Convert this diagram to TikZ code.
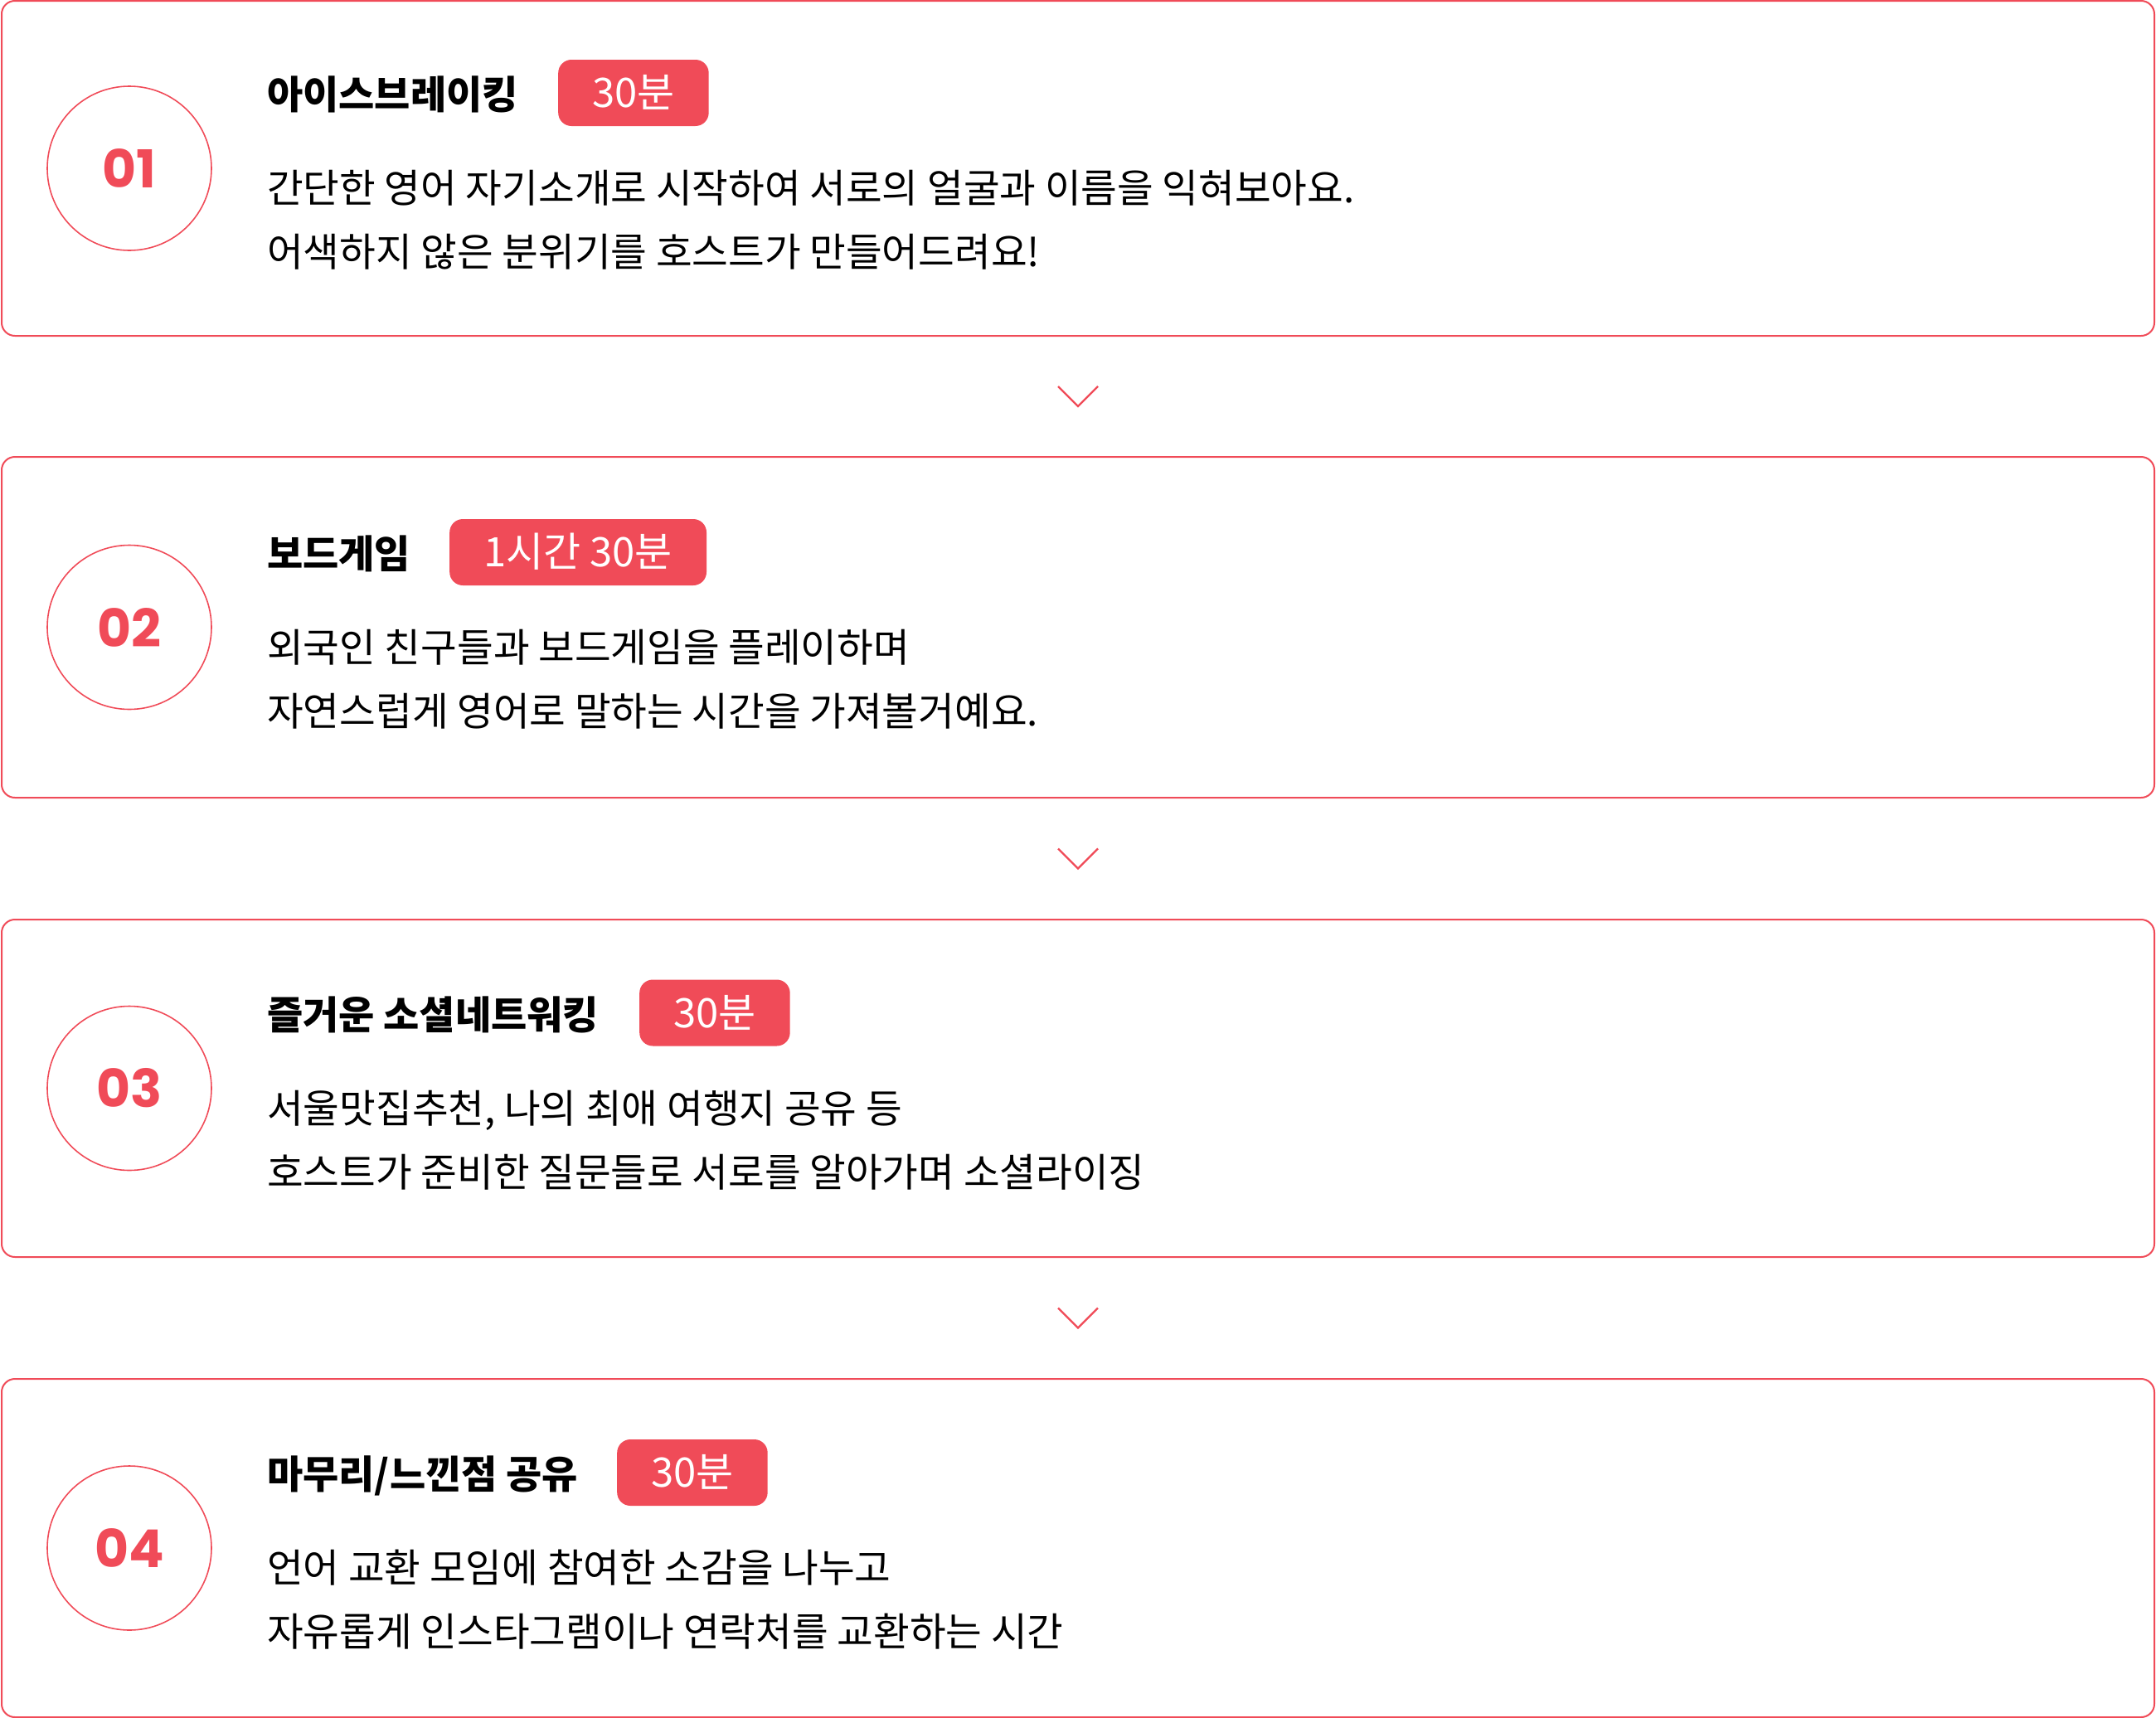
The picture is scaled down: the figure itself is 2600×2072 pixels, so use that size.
\documentclass[tikz,border=0pt]{standalone}
\usepackage{fontspec}
\setmainfont{Noto Sans CJK KR}
\newfontfamily\numfont{Poppins}
\usetikzlibrary{calc}
\definecolor{brand}{HTML}{F04B58}
\begin{document}
\begin{tikzpicture}[x=1pt,y=-1pt,
  box/.style={draw=brand, line width=2pt, rounded corners=16pt, minimum width=2596pt, inner sep=0pt},
  numcirc/.style={circle, draw=brand, line width=1.6pt, minimum size=198pt, inner sep=0pt, text=brand, font=\numfont\bfseries\fontsize{63}{63}\selectfont},
  ttl/.style={anchor=base west, inner sep=0pt, font=\bfseries\fontsize{47}{47}\selectfont},
  badge/.style={fill=brand, rounded corners=16pt, text=white, minimum height=80pt, inner xsep=41pt, inner ysep=0pt, text height=35pt, text depth=0pt, font=\fontsize{49}{49}\selectfont, anchor=west},
  body/.style={anchor=base west, inner sep=0pt, font=\fontsize{47.5}{47.5}\selectfont},
  chev/.style={draw=brand, line width=2.2pt}
]
\useasboundingbox (0,0) rectangle (2600,2072);

% box 1 (centre y 203)
\node[box, minimum height=404pt] (b1) at (1300,203) {};
\node[numcirc] (c1) at (156,203) {01};
\node[ttl] (t1) at (322,131.5) {아이스브레이킹};
\node[badge] (d1) at (673,112) {30분};
\node[body] (p1a) at (322,244.5) {간단한 영어 자기소개로 시작하여 서로의 얼굴과 이름을 익혀보아요.};
\node[body] (p1b) at (322,321.5) {어색하지 않은 분위기를 호스트가 만들어드려요!};

% box 2 (centre y 756.5)
\node[box, minimum height=411pt] (b2) at (1300,756.5) {};
\node[numcirc] (c2) at (156,756.5) {02};
\node[ttl] (t2) at (322,685) {보드게임};
\node[badge] (d2) at (542,666) {1시간 30분};
\node[body] (p2a) at (322,798) {외국인 친구들과 보드게임을 플레이하며};
\node[body] (p2b) at (322,875) {자연스럽게 영어로 말하는 시간을 가져볼거예요.};

% box 3 (centre y 1312.5)
\node[box, minimum height=407pt] (b3) at (1300,1312.5) {};
\node[numcirc] (c3) at (156,1312.5) {03};
\node[ttl] (t3) at (322,1241) {즐거운 소셜네트워킹};
\node[badge] (d3) at (771,1221.5) {30분};
\node[body] (p3a) at (322,1354) {서울맛집추천, 나의 최애 여행지 공유 등};
\node[body] (p3b) at (322,1431) {호스트가 준비한 질문들로 서로를 알아가며 소셜라이징};

% box 4 (centre y 1867)
\node[box, minimum height=408pt] (b4) at (1300,1867) {};
\node[numcirc] (c4) at (156,1867) {04};
\node[ttl] (t4) at (322,1795.5) {마무리/느낀점 공유};
\node[badge] (d4) at (744,1776) {30분};
\node[body] (p4a) at (322,1908.5) {언어 교환 모임에 참여한 소감을 나누고};
\node[body] (p4b) at (322,1985.5) {자유롭게 인스타그램이나 연락처를 교환하는 시간};

% chevrons between boxes
\foreach \a/\b in {b1/b2,b2/b3,b3/b4}{
  \coordinate (m) at ($(\a.south)!0.5!(\b.north)$);
  \draw[chev] ($(m)+(-24,-12)$) -- ($(m)+(0,12)$) -- ($(m)+(24,-12)$);
}
\end{tikzpicture}
\end{document}
